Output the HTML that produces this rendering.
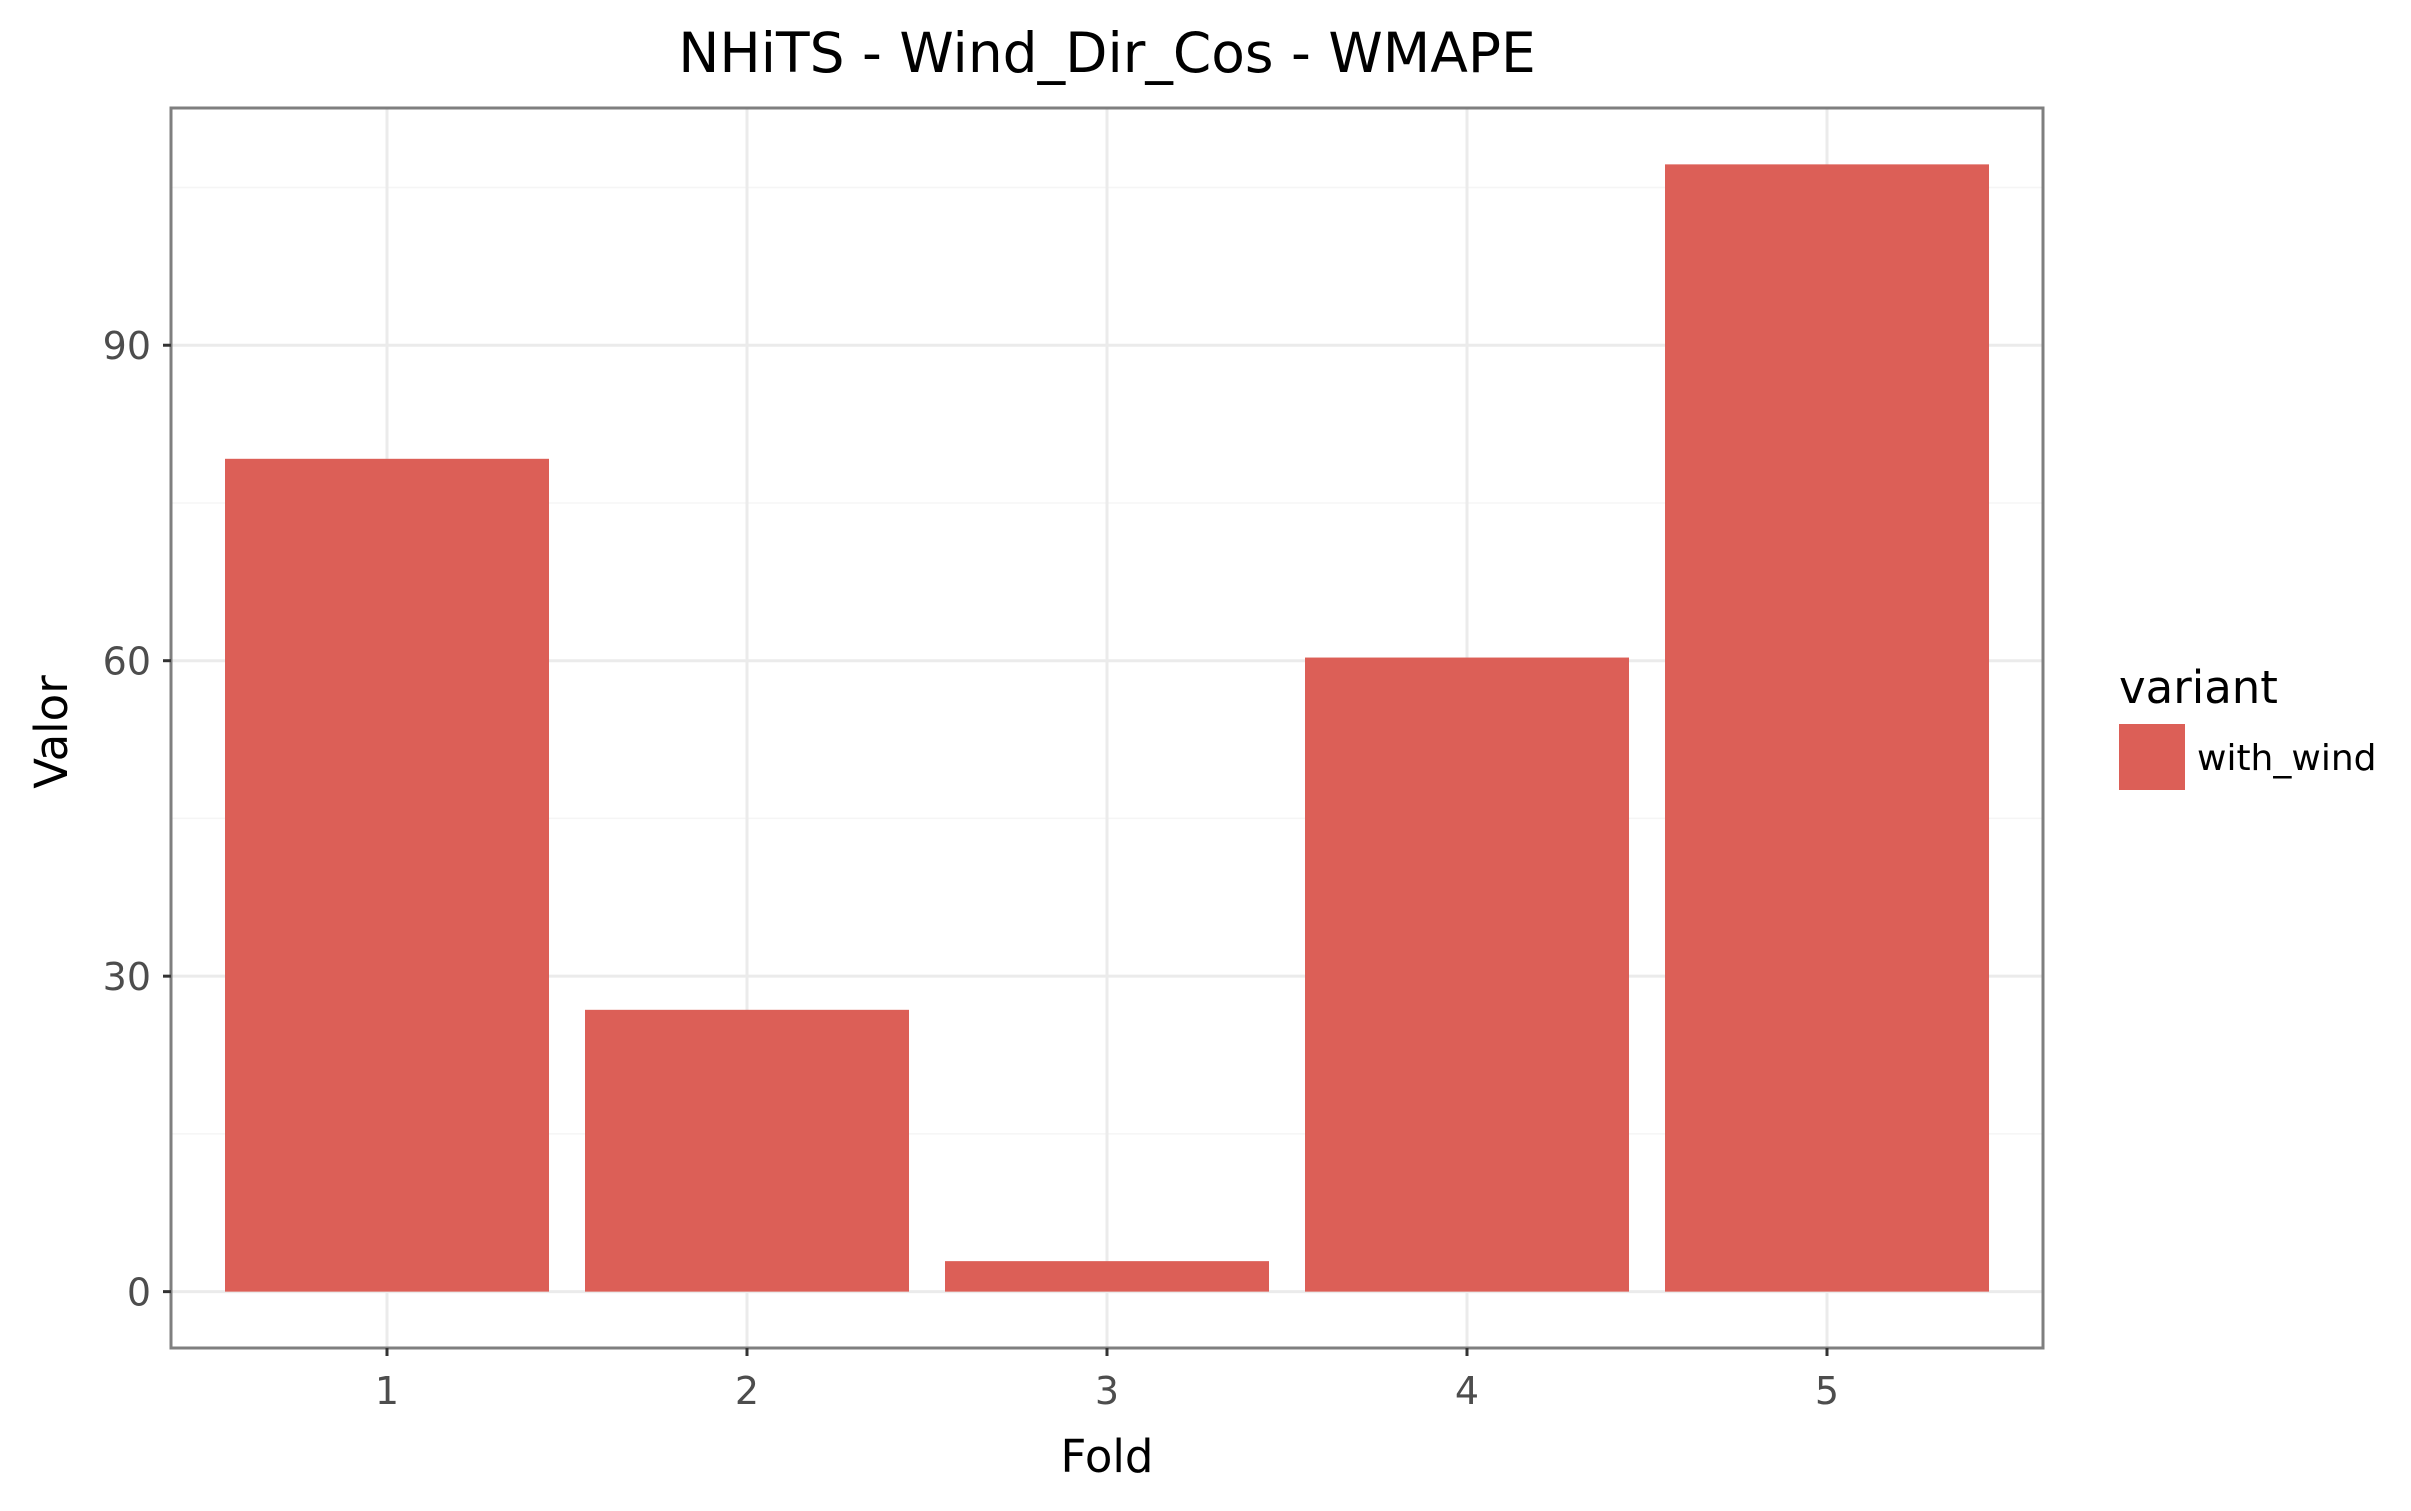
<!DOCTYPE html>
<html><head><meta charset="utf-8"><style>
html,body{margin:0;padding:0;background:#fff}
svg{display:block;font-family:"DejaVu Sans","Liberation Sans",sans-serif}
</style></head><body>
<svg id="chart" width="2411" height="1511" viewBox="0 0 2411 1511">
<rect width="2411" height="1511" fill="#fff"/>
<text x="1107" y="72" text-anchor="middle" font-size="55" fill="#000">NHiTS - Wind_Dir_Cos - WMAPE</text>
<g id="grid"></g>
<g id="bars"></g>
<rect x="171" y="108" width="1872" height="1240" fill="none" stroke="#7f7f7f" stroke-width="3"/>
<g id="axes"></g>
<text x="1107" y="1472" text-anchor="middle" font-size="45" fill="#000">Fold</text>
<text transform="translate(67,732) rotate(-90)" text-anchor="middle" font-size="45" fill="#000">Valor</text>
<g>
<text x="2119" y="703" font-size="45" fill="#000">variant</text>
<rect x="2119" y="724" width="66" height="66" fill="#dc5f57"/>
<text x="2197" y="770" font-size="36" fill="#000">with_wind</text>
</g>
</svg>
<script>
const categories = ["1","2","3","4","5"];
const values = [79.2, 26.8, 2.9, 60.3, 107.2];
const yTicks = [0, 30, 60, 90];
const yMinor = [15, 45, 75, 105];

const NS = "http://www.w3.org/2000/svg";
const L = 171, R = 2043, T = 108, B = 1348;
const maxV = Math.max(...values);
const yMin = -0.05 * maxV, yMax = maxV * 1.05;
const y = v => B - (v - yMin) / (yMax - yMin) * (B - T);
const n = categories.length;
const xLo = 0.4, xHi = n + 0.6;
const x = i => L + ((i + 1) - xLo) / (xHi - xLo) * (R - L);
const step = (R - L) / (xHi - xLo);

function mk(tag, attrs, parent) {
  const el = document.createElementNS(NS, tag);
  for (const k in attrs) el.setAttribute(k, attrs[k]);
  parent.appendChild(el);
  return el;
}
const grid = document.getElementById('grid');
const bars = document.getElementById('bars');
const axes = document.getElementById('axes');

yMinor.forEach(v => {
  if (v > yMax) return;
  const ln = mk('line', {x1: L, x2: R, y1: y(v), y2: y(v), stroke: '#f5f5f5', 'stroke-width': 1.5}, grid);
  
  
});
yTicks.forEach(v => {
  const ln = mk('line', {x1: L, x2: R, y1: y(v), y2: y(v), stroke: '#ebebeb', 'stroke-width': 3}, grid);
  
  
  const tk = mk('line', {x1: L - 8, x2: L, y1: y(v), y2: y(v), stroke: '#333', 'stroke-width': 3}, axes);
  
  
  const t = mk('text', {x: L - 20, y: y(v) + 14, 'text-anchor': 'end', 'font-size': 38, fill: '#4d4d4d'}, axes);
  
  
  t.textContent = v;
});
categories.forEach((c, i) => {
  const cx = x(i);
  const ln = mk('line', {x1: cx, x2: cx, y1: T, y2: B, stroke: '#ebebeb', 'stroke-width': 3}, grid);
  
  
  const w = step * 0.9;
  const top = y(values[i]), base = y(0);
  const r = mk('rect', {x: cx - w / 2, y: Math.min(top, base), width: w, height: Math.abs(base - top), fill: '#dc5f57'}, bars);
  
  
  const tk = mk('line', {x1: cx, x2: cx, y1: B, y2: B + 8, stroke: '#333', 'stroke-width': 3}, axes);
  
  
  const t = mk('text', {x: cx, y: B + 56, 'text-anchor': 'middle', 'font-size': 38, fill: '#4d4d4d'}, axes);
  
  
  t.textContent = c;
});
</script>
</body></html>
